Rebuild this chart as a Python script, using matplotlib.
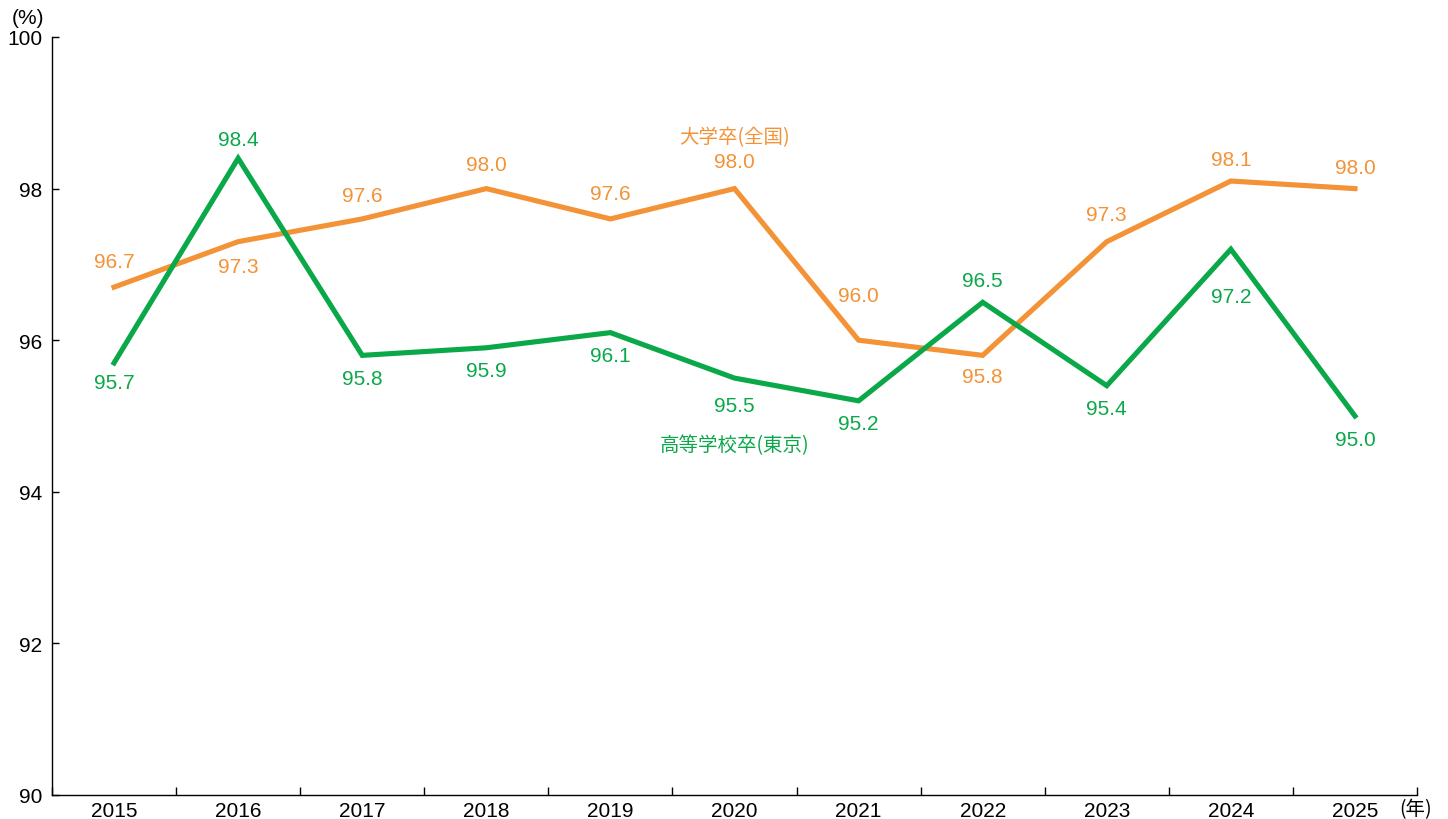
import numpy as np
import matplotlib.pyplot as plt

plt.rcParams['font.family'] = ['Liberation Sans', 'Noto Sans CJK JP', 'DejaVu Sans']
cjk = ['Noto Sans CJK JP', 'DejaVu Sans']

years = ['2015', '2016', '2017', '2018', '2019', '2020', '2021', '2022', '2023', '2024', '2025']
univ = [96.7, 97.3, 97.6, 98.0, 97.6, 98.0, 96.0, 95.8, 97.3, 98.1, 98.0]
high = [95.7, 98.4, 95.8, 95.9, 96.1, 95.5, 95.2, 96.5, 95.4, 97.2, 95.0]
# vertical offset of each value label from its point, in pixels (negative = above)
univ_off = [-26, 25, -23, -24, -25, -27, -45, 21, -27, -22, -21]
high_off = [20, -19, 23, 23, 23, 27, 23, -22, 23, 47, 24]

orange = '#F39236'
green = '#0BA84A'

fig = plt.figure(figsize=(14.48, 8.2), dpi=100)
ax = fig.add_axes([52 / 1448, 1 - 796 / 820, (1417 - 52) / 1448, (796 - 38) / 820])

x = np.arange(len(years))
ax.plot(x, univ, color=orange, lw=3.7, solid_joinstyle='miter', zorder=3)
ax.plot(x, high, color=green, lw=3.7, solid_joinstyle='miter', zorder=3)

for xi, v, o in zip(x, univ, univ_off):
    ax.annotate(f'{v:.1f}', (xi, v), xytext=(0, -o * 0.72), textcoords='offset points',
                ha='center', va='center', color=orange, fontsize=15)
for xi, v, o in zip(x, high, high_off):
    ax.annotate(f'{v:.1f}', (xi, v), xytext=(0, -o * 0.72), textcoords='offset points',
                ha='center', va='center', color=green, fontsize=15)

ax.text(5, 98.68, '大学卒(全国)', color=orange, ha='center', va='center',
        fontsize=14, family=cjk)
ax.text(5, 94.62, '高等学校卒(東京)', color=green, ha='center', va='center',
        fontsize=14, family=cjk)

ax.set_xlim(-0.5, len(years) - 0.5)
ax.set_ylim(90, 100)
ax.set_yticks([90, 92, 94, 96, 98, 100])
ax.tick_params(axis='y', direction='in', length=5, width=1, labelsize=15, pad=7)

ax.set_xticks(np.arange(-0.5, len(years), 1))
ax.set_xticklabels([])
ax.tick_params(axis='x', which='major', direction='in', length=6, width=1)
ax.set_xticks(x, minor=True)
ax.set_xticklabels(years, minor=True)
ax.tick_params(axis='x', which='minor', length=0, labelsize=15, pad=4)

for s in ['top', 'right']:
    ax.spines[s].set_visible(False)
for s in ['left', 'bottom']:
    ax.spines[s].set_linewidth(1)

fig.text(28 / 1448, 1 - 18 / 820, '(%)', ha='center', va='center', fontsize=15)
fig.text(1416 / 1448, 1 - 810 / 820, '(年)', ha='center', va='center', fontsize=14, family=cjk)

fig.savefig('out.png', dpi=100)
